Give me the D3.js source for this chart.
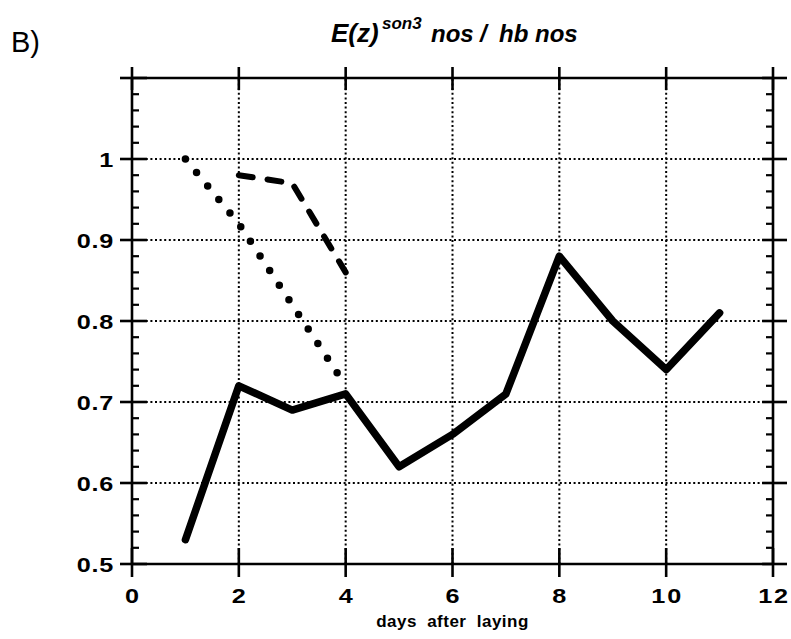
<!DOCTYPE html>
<html>
<head>
<meta charset="utf-8">
<script src="https://cdn.jsdelivr.net/npm/d3@7"></script>
<style>
  html, body { margin: 0; padding: 0; background: #fff; }
  svg { display: block; font-family: "Liberation Sans", Arial, Helvetica, sans-serif; }
</style>
</head>
<body>
<svg id="chart" width="791" height="639"></svg>
<script>
// Ratio of expression, E(z)son3 nos relative to hb nos, by day after laying
const days = [1, 2, 3, 4, 5, 6, 7, 8, 9, 10, 11];
const solidRatio = [0.53, 0.72, 0.69, 0.71, 0.62, 0.66, 0.71, 0.88, 0.80, 0.74, 0.81];
const dottedDays = [1, 2, 3, 4];
const dottedRatio = [1.00, 0.92, 0.82, 0.72];
const dashedDays = [2, 3, 4];
const dashedRatio = [0.98, 0.97, 0.86];

const xTicks = [0, 2, 4, 6, 8, 10, 12];
const yTicks = [0.5, 0.6, 0.7, 0.8, 0.9, 1.0];
const yTickLabels = ["0.5", "0.6", "0.7", "0.8", "0.9", "1"];

const svg = d3.select("#chart");
const pL = 132, pR = 773, pT = 78, pB = 564;

const x = d3.scaleLinear().domain([0, 12]).range([pL, pR]);
const y = d3.scaleLinear().domain([0.5, 1.1]).range([pB, pT]);

// dotted grid
const grid = svg.append("g")
  .attr("stroke", "#000").attr("stroke-width", 2)
  .attr("stroke-dasharray", "2,2.6").attr("fill", "none");
grid.selectAll("line.v").data(xTicks.slice(1, -1)).join("line")
  .attr("x1", d => x(d)).attr("x2", d => x(d))
  .attr("y1", pB).attr("y2", pT);
grid.selectAll("line.h").data(yTicks.slice(1)).join("line")
  .attr("x1", pL).attr("x2", pR)
  .attr("y1", d => y(d)).attr("y2", d => y(d));

// frame
const frame = svg.append("g").attr("stroke", "#000").attr("stroke-width", 2.6).attr("fill", "none");
frame.append("line").attr("x1", pL).attr("x2", pR).attr("y1", pB).attr("y2", pB);
frame.append("line").attr("x1", pL).attr("x2", pR).attr("y1", pT).attr("y2", pT);
frame.append("line").attr("x1", pL).attr("x2", pL).attr("y1", pT).attr("y2", pB);
frame.append("line").attr("x1", pR).attr("x2", pR).attr("y1", pT).attr("y2", pB);

// x major ticks crossing bottom and top edges
frame.selectAll("line.xb").data(xTicks).join("line")
  .attr("x1", d => x(d)).attr("x2", d => x(d))
  .attr("y1", pB - 16).attr("y2", pB + 13);
frame.selectAll("line.xt").data(xTicks).join("line")
  .attr("x1", d => x(d)).attr("x2", d => x(d))
  .attr("y1", pT - 11).attr("y2", pT + 12);

// y major ticks crossing left and right edges
const yMajors = yTicks.concat([1.1]);
frame.selectAll("line.yl").data(yMajors).join("line")
  .attr("x1", pL - 12).attr("x2", pL + 15)
  .attr("y1", d => y(d)).attr("y2", d => y(d));
frame.selectAll("line.yr").data(yMajors).join("line")
  .attr("x1", pR - 11).attr("x2", pR + 14)
  .attr("y1", d => y(d)).attr("y2", d => y(d));

// y minor ticks (inward)
const yMinor = d3.range(0.52, 1.1, 0.02).filter(v => Math.abs(Math.round(v * 10) - v * 10) > 0.05);
frame.selectAll("line.ml").data(yMinor).join("line")
  .attr("stroke-width", 2.2)
  .attr("x1", pL).attr("x2", pL + 7)
  .attr("y1", d => y(d)).attr("y2", d => y(d));
frame.selectAll("line.mr").data(yMinor).join("line")
  .attr("stroke-width", 2.2)
  .attr("x1", pR - 7).attr("x2", pR)
  .attr("y1", d => y(d)).attr("y2", d => y(d));

// tick labels: wide, heavy numerals
svg.append("g").selectAll("text").data(xTicks).join("text")
  .attr("transform", d => `translate(${x(d) + (d >= 10 ? 1 : 0)},${pB + 39}) scale(1.2,1)`)
  .attr("text-anchor", "middle")
  .attr("font-size", 21).attr("font-weight", "bold")
  .attr("letter-spacing", d => d >= 10 ? 1.5 : 0)
  .text(d => d);

svg.append("g").selectAll("text").data(yTicks).join("text")
  .attr("transform", d => `translate(${pL - 18},${y(d) + 7.5}) scale(1.2,1)`)
  .attr("text-anchor", "end")
  .attr("font-size", 21).attr("font-weight", "bold")
  .attr("letter-spacing", 0.6)
  .text((d, i) => yTickLabels[i]);

// axis title
svg.append("text")
  .attr("x", (pL + pR) / 2).attr("y", 627)
  .attr("text-anchor", "middle")
  .attr("font-size", 17).attr("font-weight", "bold")
  .attr("letter-spacing", 0.5)
  .attr("word-spacing", 5)
  .text("days after laying");

// panel letter
svg.append("text").attr("x", 11).attr("y", 52)
  .attr("font-size", 29).text("B)");

// chart title
const title = svg.append("text").attr("y", 42)
  .attr("font-style", "italic").attr("font-weight", "bold");
title.append("tspan").attr("x", 331).attr("font-size", 26).text("E(z)");
title.append("tspan").attr("x", 382).attr("dy", -13).attr("font-size", 17).text("son3");
title.append("tspan").attr("x", 431).attr("dy", 13).attr("font-size", 24).text("nos");
title.append("tspan").attr("x", 480).attr("font-size", 24).text("/");
title.append("tspan").attr("x", 499).attr("font-size", 24).text("hb");
title.append("tspan").attr("x", 535).attr("font-size", 24).text("nos");

// series
const line = d3.line().x(d => x(d[0])).y(d => y(d[1]));

svg.append("path")
  .datum(days.map((d, i) => [d, solidRatio[i]]))
  .attr("d", line)
  .attr("fill", "none").attr("stroke", "#000").attr("stroke-width", 7.5)
  .attr("stroke-linejoin", "round").attr("stroke-linecap", "round");

svg.append("path")
  .datum(dottedDays.map((d, i) => [d, dottedRatio[i]]))
  .attr("d", line)
  .attr("fill", "none").attr("stroke", "#000").attr("stroke-width", 7.5)
  .attr("stroke-dasharray", "0,17.5")
  .attr("stroke-linecap", "round");

svg.append("path")
  .datum(dashedDays.map((d, i) => [d, dashedRatio[i]]))
  .attr("d", line)
  .attr("fill", "none").attr("stroke", "#000").attr("stroke-width", 6)
  .attr("stroke-dasharray", "14,15")
  .attr("stroke-linecap", "round");
</script>
</body>
</html>
